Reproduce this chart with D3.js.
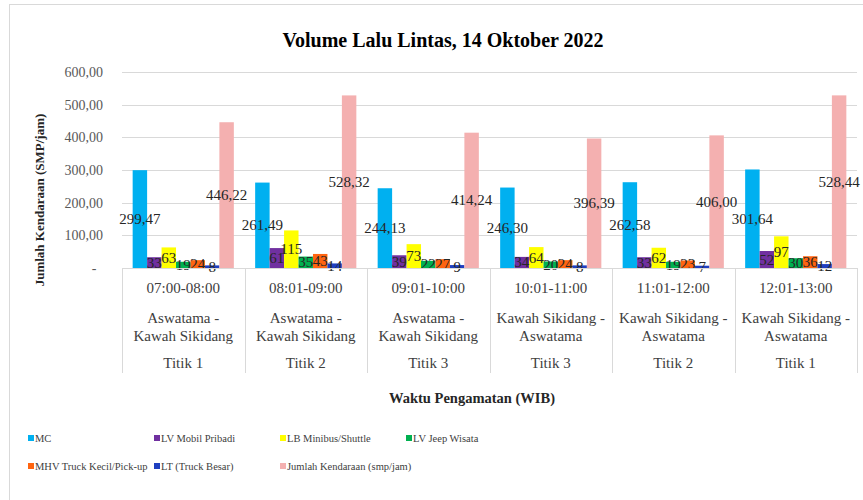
<!doctype html>
<html>
<head>
    <script src="https://d3js.org/d3.v7.min.js"></script>
</head>
<style>
    body { margin: 0; background: #fff; }
    svg text { font-family: "Liberation Serif", "DejaVu Serif", serif; }
</style>
<body>
    <div id="chart"></div>
    <script>
        // data
        var times = ["07:00-08:00", "08:01-09:00", "09:01-10:00", "10:01-11:00", "11:01-12:00", "12:01-13:00"];
        var routes = [
            ["Aswatama -", "Kawah Sikidang"],
            ["Aswatama -", "Kawah Sikidang"],
            ["Aswatama -", "Kawah Sikidang"],
            ["Kawah Sikidang -", "Aswatama"],
            ["Kawah Sikidang -", "Aswatama"],
            ["Kawah Sikidang -", "Aswatama"]
        ];
        var points = ["Titik 1", "Titik 2", "Titik 3", "Titik 3", "Titik 2", "Titik 1"];

        var seriesNames = ["MC", "LV Mobil Pribadi", "LB Minibus/Shuttle", "LV Jeep Wisata",
                           "MHV Truck Kecil/Pick-up", "LT (Truck Besar)", "Jumlah Kendaraan (smp/jam)"];
        var colors = ["#00b0f0", "#7030a0", "#ffff00", "#00b050", "#ff6410", "#1f3fc0", "#f4b0b0"];
        var decimals = [2, 0, 0, 0, 0, 0, 2];

        var mc      = [299.47, 261.49, 244.13, 246.30, 262.58, 301.64];
        var lvMobil = [33, 61, 39, 34, 33, 52];
        var lbMini  = [63, 115, 73, 64, 62, 97];
        var lvJeep  = [19, 35, 22, 20, 19, 30];
        var mhv     = [24, 43, 27, 24, 23, 36];
        var lt      = [8, 14, 9, 8, 7, 12];
        var jumlah  = [446.22, 528.32, 414.24, 396.39, 406.00, 528.44];
        var series = [mc, lvMobil, lbMini, lvJeep, mhv, lt, jumlah];

        var yTicks = [0, 100, 200, 300, 400, 500, 600];

        var width = 863,
            height = 500,
            plotLeft = 122, plotRight = 857,
            plotTop = 72, plotBottom = 268;

        var svg = d3.select("#chart")
                    .append("svg")
                    .attr("width", width)
                    .attr("height", height);

        svg.append("rect")
           .attr("x", 9.5).attr("y", 4.5)
           .attr("width", 860).attr("height", 510)
           .attr("fill", "none")
           .attr("stroke", "#d9d9d9");

        var x0 = d3.scaleBand().domain(d3.range(times.length)).range([plotLeft, plotRight]);
        var bw = x0.bandwidth();
        var x1 = d3.scaleBand().domain(d3.range(series.length)).range([bw * 0.087, bw * 0.913]);
        var y = d3.scaleLinear().domain([0, 600]).range([plotBottom, plotTop]);

        // title
        svg.append("text")
           .attr("x", 443).attr("y", 47)
           .attr("text-anchor", "middle")
           .attr("font-size", "20px")
           .attr("font-weight", "bold")
           .attr("fill", "#000")
           .text("Volume Lalu Lintas, 14 Oktober 2022");

        // gridlines + y labels
        svg.append("g")
           .selectAll("line")
           .data(yTicks.filter(function(d) { return d > 0; }))
           .enter().append("line")
           .attr("x1", plotLeft).attr("x2", plotRight)
           .attr("y1", function(d) { return Math.round(y(d)) + 0.5; })
           .attr("y2", function(d) { return Math.round(y(d)) + 0.5; })
           .attr("stroke", "#d9d9d9");

        svg.append("g")
           .selectAll("text")
           .data(yTicks)
           .enter().append("text")
           .attr("x", function(d) { return d === 0 ? 94 : 103; })
           .attr("y", function(d) { return y(d) + 5; })
           .attr("text-anchor", function(d) { return d === 0 ? "middle" : "end"; })
           .attr("font-size", "14px")
           .attr("fill", "#595959")
           .text(function(d) { return d === 0 ? "-" : d3.format(".2f")(d).replace(".", ","); });

        // bars
        var fmt = function(v, k) {
            return v.toFixed(decimals[k]).replace(".", ",");
        };

        var groups = svg.append("g")
                        .selectAll("g")
                        .data(times)
                        .enter().append("g")
                        .attr("transform", function(d, i) { return "translate(" + x0(i) + ",0)"; });

        groups.selectAll("rect")
              .data(function(d, i) { return series.map(function(s, k) { return { k: k, v: s[i] }; }); })
              .enter().append("rect")
              .attr("x", function(d) { return x1(d.k); })
              .attr("width", x1.bandwidth())
              .attr("y", function(d) { return y(d.v); })
              .attr("height", function(d) { return plotBottom - y(d.v); })
              .attr("fill", function(d) { return colors[d.k]; });

        groups.selectAll("text")
              .data(function(d, i) { return series.map(function(s, k) { return { k: k, v: s[i] }; }); })
              .enter().append("text")
              .attr("x", function(d) { return x1(d.k) + x1.bandwidth() / 2; })
              .attr("y", function(d) { return (y(d.v) + plotBottom) / 2 + 5; })
              .attr("text-anchor", "middle")
              .attr("font-size", "15px")
              .attr("fill", "#262626")
              .text(function(d) { return fmt(d.v, d.k); });

        // category axis drawn as a table
        var axis = svg.append("g");
        axis.append("line")
            .attr("x1", plotLeft).attr("x2", plotRight)
            .attr("y1", plotBottom + 0.5).attr("y2", plotBottom + 0.5)
            .attr("stroke", "#d9d9d9");

        axis.selectAll(".sep")
            .data(d3.range(times.length + 1))
            .enter().append("line")
            .attr("class", "sep")
            .attr("x1", function(i) { return Math.round(plotLeft + i * bw) + 0.5; })
            .attr("x2", function(i) { return Math.round(plotLeft + i * bw) + 0.5; })
            .attr("y1", plotBottom).attr("y2", 373)
            .attr("stroke", "#d9d9d9");

        var cat = axis.selectAll(".cat")
                      .data(times)
                      .enter().append("g")
                      .attr("class", "cat")
                      .attr("transform", function(d, i) { return "translate(" + (x0(i) + bw / 2) + ",0)"; })
                      .attr("text-anchor", "middle")
                      .attr("font-size", "15px")
                      .attr("fill", "#404040");

        cat.append("text").attr("y", 293).text(function(d) { return d; });
        cat.append("text").attr("y", 323).text(function(d, i) { return routes[i][0]; });
        cat.append("text").attr("y", 341).text(function(d, i) { return routes[i][1]; });
        cat.append("text").attr("y", 368).text(function(d, i) { return points[i]; });

        // axis titles
        svg.append("text")
           .attr("x", 472).attr("y", 403)
           .attr("text-anchor", "middle")
           .attr("font-size", "14.5px")
           .attr("font-weight", "bold")
           .attr("fill", "#262626")
           .text("Waktu Pengamatan (WIB)");

        svg.append("text")
           .attr("transform", "translate(44,200) rotate(-90)")
           .attr("text-anchor", "middle")
           .attr("font-size", "13px")
           .attr("font-weight", "bold")
           .attr("fill", "#262626")
           .text("Jumlah Kendaraan (SMP/jam)");

        // legend
        var legendX = [28, 154, 280, 406];
        var legend = svg.append("g")
                        .selectAll("g")
                        .data(seriesNames)
                        .enter().append("g")
                        .attr("transform", function(d, i) {
                            return "translate(" + legendX[i % 4] + "," + (i < 4 ? 442 : 470) + ")";
                        });
        legend.append("rect")
              .attr("x", 0).attr("y", -7)
              .attr("width", 6).attr("height", 6)
              .attr("fill", function(d, i) { return colors[i]; });
        legend.append("text")
              .attr("x", 7).attr("y", 0)
              .attr("font-size", "10.5px")
              .attr("fill", "#404040")
              .text(function(d) { return d; });
    </script>
</body>
</html>
